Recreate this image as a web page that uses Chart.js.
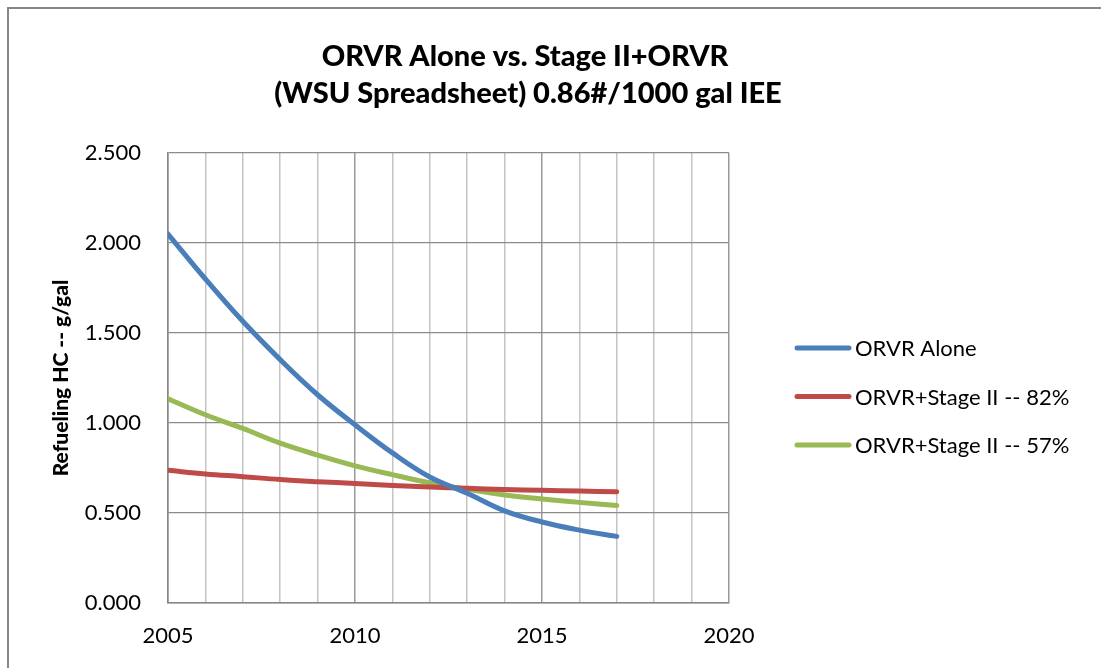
<!DOCTYPE html>
<html>
<head>
<meta charset="utf-8">
<script src="https://cdn.jsdelivr.net/npm/chart.js@4/dist/chart.umd.min.js"></script>
<style>
  html, body { margin: 0; padding: 0; background: #fff; }
  #wrap { position: relative; width: 1101px; height: 668px; }
</style>
</head>
<body>
<div id="wrap"><canvas id="chart" width="1101" height="668"></canvas></div>
<script>
// --- data ---
const years = [2005, 2006, 2007, 2008, 2009, 2010, 2011, 2012, 2013, 2014, 2015, 2016, 2017];
const orvrAlone = [2.05, 1.80, 1.565, 1.352, 1.157, 0.99, 0.834, 0.70, 0.61, 0.512, 0.45, 0.405, 0.37];
const stage82 = [0.737, 0.717, 0.702, 0.686, 0.674, 0.664, 0.653, 0.644, 0.637, 0.631, 0.626, 0.622, 0.618];
const stage57 = [1.135, 1.046, 0.970, 0.888, 0.822, 0.762, 0.713, 0.668, 0.632, 0.600, 0.578, 0.559, 0.542];
const seriesNames = ['ORVR Alone', 'ORVR+Stage II -- 82%', 'ORVR+Stage II -- 57%'];
const seriesColors = ['#4A7EBB', '#BE4B48', '#98B954'];
const titleLines = ['ORVR Alone vs. Stage II+ORVR', '(WSU Spreadsheet) 0.86#/1000 gal IEE'];
const yTitle = 'Refueling HC -- g/gal';

const FONT = 'Lato, "Open Sans", sans-serif';

const toPoints = (vals) => vals.map((v, i) => ({ x: years[i], y: v }));

// title, legend and outer frame drawn on the canvas
const decorations = {
  id: 'decorations',
  beforeDraw(chart) {
    const ctx = chart.ctx;
    ctx.save();
    ctx.strokeStyle = '#868686';
    ctx.lineWidth = 2;
    ctx.strokeRect(8, 8, 1300, 900);
    ctx.restore();
  },
  afterDraw(chart) {
    const ctx = chart.ctx;
    ctx.save();
    ctx.fillStyle = '#000';
    ctx.textAlign = 'center';
    ctx.textBaseline = 'middle';
    ctx.font = '900 29px ' + FONT;
    ctx.fillText(titleLines[0], 525, 57);
    ctx.fillText(titleLines[1], 528, 94);

    ctx.textAlign = 'left';
    ctx.font = '22px ' + FONT;
    chart.data.datasets.forEach((ds, i) => {
      const y = 348 + i * 48.5;
      ctx.strokeStyle = ds.borderColor;
      ctx.lineWidth = 5;
      ctx.lineCap = 'round';
      ctx.beginPath();
      ctx.moveTo(797, y);
      ctx.lineTo(849, y);
      ctx.stroke();
      ctx.fillText(ds.label, 855, y + 1);
    });
    ctx.restore();
  }
};

new Chart(document.getElementById('chart').getContext('2d'), {
  type: 'line',
  data: {
    datasets: [
      { label: seriesNames[0], data: toPoints(orvrAlone), borderColor: seriesColors[0] },
      { label: seriesNames[1], data: toPoints(stage82), borderColor: seriesColors[1] },
      { label: seriesNames[2], data: toPoints(stage57), borderColor: seriesColors[2] }
    ].map(ds => Object.assign(ds, {
      borderWidth: 5, pointRadius: 0, tension: 0.4, fill: false,
      borderCapStyle: 'round', borderJoinStyle: 'round', backgroundColor: ds.borderColor
    }))
  },
  plugins: [decorations],
  options: {
    responsive: false,
    animation: false,
    layout: { padding: { top: 153, right: 372, bottom: 0, left: 0 } },
    plugins: { legend: { display: false }, title: { display: false }, tooltip: { enabled: false } },
    scales: {
      x: {
        type: 'linear', min: 2005, max: 2020,
        ticks: {
          stepSize: 1, color: '#000', padding: 20,
          maxRotation: 0, minRotation: 0, autoSkip: false,
          font: { family: FONT, size: 22 },
          callback: (v) => (v % 5 === 0 ? String(v) : '')
        },
        grid: {
          drawTicks: false,
          color: (c) => (c.tick && c.tick.value % 5 === 0 ? '#9a9a9a' : '#c4c4c4'),
          lineWidth: 1.5
        },
        border: { color: '#868686', width: 1.5 },
        afterFit: (scale) => { scale.height = 65; }
      },
      y: {
        min: 0, max: 2.5,
        ticks: {
          stepSize: 0.5, color: '#000', padding: 27,
          font: { family: FONT, size: 22 },
          callback: (v) => v.toFixed(3)
        },
        grid: { drawTicks: false, color: '#8c8c8c', lineWidth: 1.3 },
        border: { color: '#868686', width: 1.5 },
        title: {
          display: true, text: yTitle, color: '#000',
          font: { family: FONT, size: 21, weight: '900' },
          padding: { top: 49, bottom: 0 }
        },
        afterFit: (scale) => { scale.width = 168; }
      }
    }
  }
});
</script>
</body>
</html>
